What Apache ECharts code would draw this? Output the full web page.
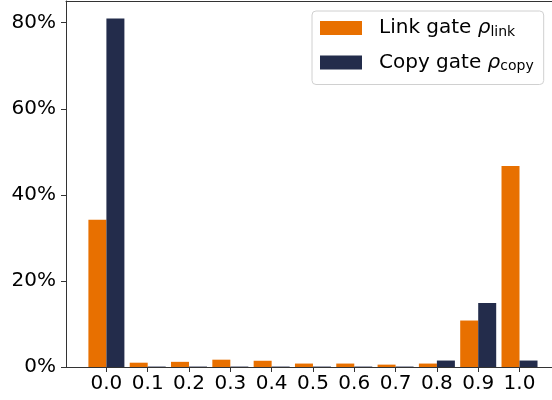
<!DOCTYPE html>
<html>
<head>
<meta charset="utf-8">
<script src="https://cdn.jsdelivr.net/npm/echarts@6/dist/echarts.min.js"></script>
<style>
  html, body { margin: 0; padding: 0; background: #fff; }
  #chart { width: 552px; height: 400px; }
</style>
</head>
<body>
<div id="chart"></div>
<script>
// bins of the gate value (x) and share of tokens per bin (%)
const categories = ['0.0', '0.1', '0.2', '0.3', '0.4', '0.5', '0.6', '0.7', '0.8', '0.9', '1.0'];
const linkGate = [34.2, 1.0, 1.2, 1.7, 1.45, 0.8, 0.8, 0.55, 0.8, 10.8, 46.7];
const copyGate = [81.0, 0.1, 0.1, 0.1, 0.1, 0.1, 0.1, 0.1, 1.5, 14.9, 1.5];
const yTicks = [0, 20, 40, 60, 80];

const xValues = categories.map((c) => parseFloat(c));
const FONT = 'DejaVu Sans';

const legendLabels = {
  'Link gate ρlink': '{a|Link gate }{r|ρ}{s|link}',
  'Copy gate ρcopy': '{a|Copy gate }{r|ρ}{s|copy}',
};

const chart = echarts.init(document.getElementById('chart'));

chart.setOption({
  animation: false,
  textStyle: { fontFamily: FONT, color: '#000' },
  grid: {
    left: 66,
    top: 1,
    width: 494,
    height: 366,
    outerBoundsMode: 'none',
    containLabel: false,
  },
  legend: {
    orient: 'vertical',
    left: 312,
    top: 11,
    itemWidth: 42,
    itemHeight: 14,
    itemGap: 12.5,
    padding: [6, 10, 11, 8],
    borderColor: '#d0d0d0',
    borderWidth: 1,
    borderRadius: 4,
    backgroundColor: 'rgba(255,255,255,0.8)',
    icon: 'rect',
    formatter: (name) => legendLabels[name],
    textStyle: {
      fontFamily: FONT,
      color: '#000',
      rich: {
        a: { fontSize: 20, lineHeight: 24, padding: [0, 0, 0, 12] },
        r: { fontSize: 20, lineHeight: 24, fontStyle: 'italic' },
        s: { fontSize: 14, lineHeight: 24, padding: [8, 0, 0, 0] },
      },
    },
    data: ['Link gate ρlink', 'Copy gate ρcopy'],
  },
  xAxis: [
    {
      type: 'value',
      min: -0.0978,
      max: 1.098,
      splitLine: { show: false },
      axisLine: { show: true, onZero: false, lineStyle: { color: '#333' } },
      axisTick: {
        show: true,
        length: 5,
        lineStyle: { color: '#333' },
        customValues: xValues,
      },
      axisLabel: {
        fontSize: 20,
        color: '#000',
        margin: 7,
        customValues: xValues,
        formatter: (v) => v.toFixed(1),
      },
    },
    {
      // top spine only
      type: 'value',
      position: 'top',
      min: -0.0978,
      max: 1.098,
      splitLine: { show: false },
      axisLine: { show: true, onZero: false, lineStyle: { color: '#333' } },
      axisTick: { show: false },
      axisLabel: { show: false },
    },
  ],
  yAxis: {
    type: 'value',
    min: 0,
    max: 85.05,
    splitLine: { show: false },
    axisLine: { show: true, onZero: false, lineStyle: { color: '#333' } },
    axisTick: {
      show: true,
      length: 5,
      lineStyle: { color: '#333' },
      customValues: yTicks,
    },
    axisLabel: {
      fontSize: 20,
      color: '#000',
      margin: 10,
      customValues: yTicks,
      formatter: (v) => v + '%',
    },
  },
  series: [
    {
      name: 'Link gate ρlink',
      type: 'bar',
      barWidth: 18,
      barGap: '0%',
      itemStyle: { color: '#e87000' },
      data: xValues.map((x, i) => [x, linkGate[i]]),
    },
    {
      name: 'Copy gate ρcopy',
      type: 'bar',
      barWidth: 18,
      barGap: '0%',
      itemStyle: { color: '#232c4b' },
      data: xValues.map((x, i) => [x, copyGate[i]]),
    },
  ],
});
</script>
</body>
</html>
